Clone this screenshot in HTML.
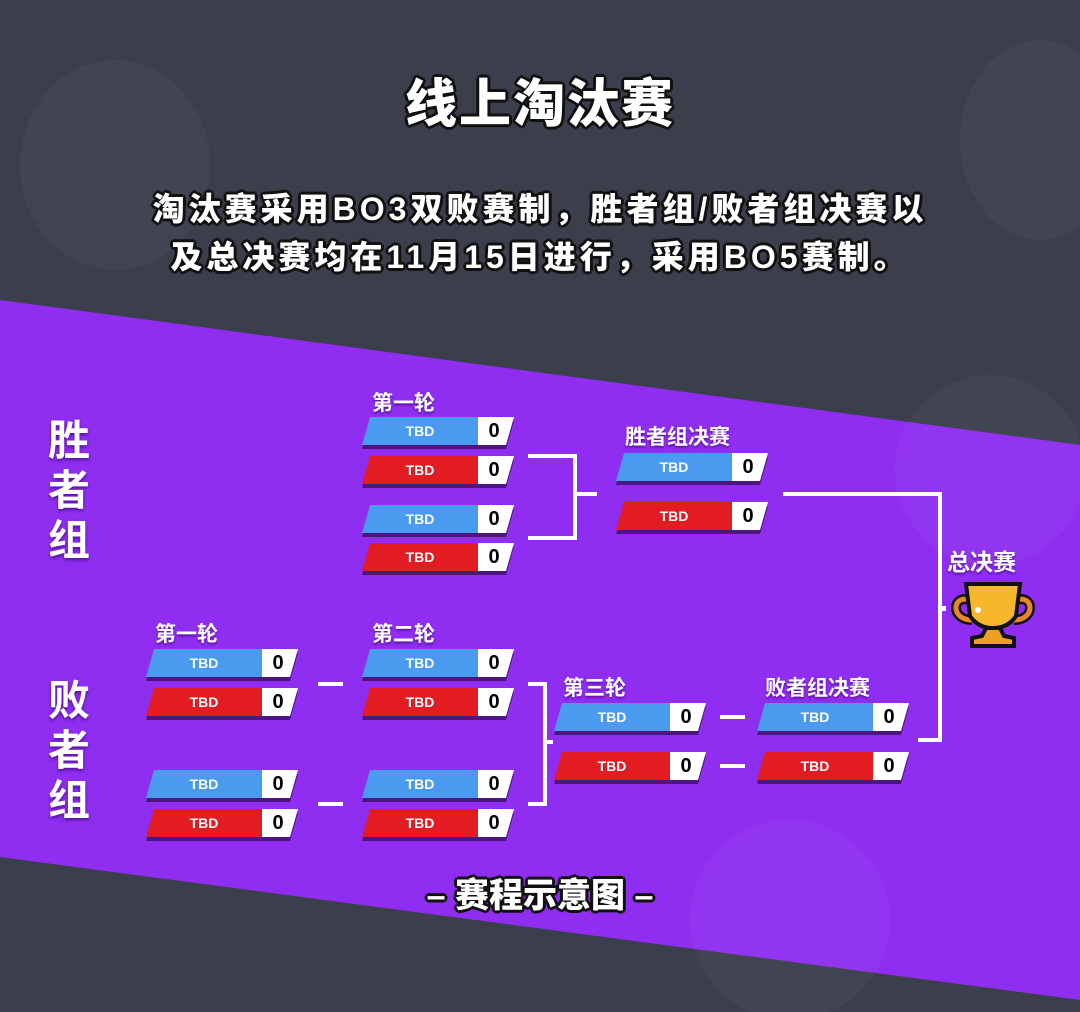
<!DOCTYPE html>
<html><head><meta charset="utf-8"><style>
*{margin:0;padding:0;box-sizing:border-box}
body{width:1080px;height:1012px;overflow:hidden;background:#3b3f4c;position:relative;font-family:"Liberation Sans","Noto Sans CJK SC",sans-serif}
.t{position:absolute;color:#fff;font-weight:900;white-space:nowrap;
 text-shadow:-2px -2px 0 #111,2px -2px 0 #111,-2px 2px 0 #111,2px 2px 0 #111,0 3px 0 #111,3px 0 0 #111,-3px 0 0 #111,0 -3px 0 #111}
.lbl{position:absolute;color:#fff;font-weight:700;font-size:21px;white-space:nowrap;text-shadow:0 2px 2px rgba(60,0,120,.6)}
.side{position:absolute;color:#fff;font-weight:700;font-size:42px;line-height:50px;width:50px;text-align:center;text-shadow:0 2px 3px rgba(40,0,90,.6)}
.slot{position:absolute;width:152px;height:28px;filter:drop-shadow(0 4px 0 #4b167f)}
.in{width:100%;height:100%;display:flex;clip-path:polygon(8px 0,100% 0,calc(100% - 8px) 100%,0 100%)}
.in .c{width:116px;height:100%;color:#fff;font-weight:900;font-size:14px;display:flex;align-items:center;justify-content:center}
.in .w{width:36px;height:100%;background:#fff;color:#000;font-weight:900;font-size:20px;display:flex;align-items:center;justify-content:center;padding-right:4px}
.b .c{background:#4a9af0}.r .c{background:#e21c22}
.ln{position:absolute;background:#fff}
.sk{position:absolute;border-radius:50%;background:rgba(255,255,255,.035)}
</style></head><body>
<div class="sk" style="left:20px;top:60px;width:190px;height:210px"></div>
<div class="sk" style="left:960px;top:40px;width:160px;height:200px"></div>
<svg width="1080" height="1012" style="position:absolute;left:0;top:0">
<polygon points="0,300 1080,445 1080,1000 0,857" fill="#8f2ef0"/>
<circle cx="990" cy="470" r="95" fill="rgba(255,255,255,.035)"/>
<circle cx="790" cy="920" r="100" fill="rgba(255,255,255,.035)"/>
</svg>
<div class="t" style="left:0;width:1080px;text-align:center;top:62px;font-size:52px;letter-spacing:2px">线上淘汰赛</div>
<div class="t" style="left:0;width:1080px;text-align:center;top:184px;font-size:32px;letter-spacing:4px">淘汰赛采用BO3双败赛制，胜者组/败者组决赛以</div>
<div class="t" style="left:0;width:1080px;text-align:center;top:232px;font-size:32px;letter-spacing:4px">及总决赛均在11月15日进行，采用BO5赛制。</div>

<div class="side" style="left:44px;top:416px">胜<br>者<br>组</div>
<div class="side" style="left:44px;top:676px">败<br>者<br>组</div>

<div class="lbl" style="left:372px;top:387px">第一轮</div>
<div class="lbl" style="left:625px;top:421px">胜者组决赛</div>
<div class="lbl" style="left:155px;top:618px">第一轮</div>
<div class="lbl" style="left:372px;top:618px">第二轮</div>
<div class="lbl" style="left:563px;top:672px">第三轮</div>
<div class="lbl" style="left:765px;top:672px">败者组决赛</div>
<div class="lbl" style="left:947px;top:543px;font-size:23px">总决赛</div>

<div class="slot b" style="left:362px;top:417px"><div class="in"><div class="c">TBD</div><div class="w">0</div></div></div>
<div class="slot r" style="left:362px;top:456px"><div class="in"><div class="c">TBD</div><div class="w">0</div></div></div>
<div class="slot b" style="left:362px;top:505px"><div class="in"><div class="c">TBD</div><div class="w">0</div></div></div>
<div class="slot r" style="left:362px;top:543px"><div class="in"><div class="c">TBD</div><div class="w">0</div></div></div>
<div class="slot b" style="left:616px;top:453px"><div class="in"><div class="c">TBD</div><div class="w">0</div></div></div>
<div class="slot r" style="left:616px;top:502px"><div class="in"><div class="c">TBD</div><div class="w">0</div></div></div>
<div class="slot b" style="left:146px;top:649px"><div class="in"><div class="c">TBD</div><div class="w">0</div></div></div>
<div class="slot r" style="left:146px;top:688px"><div class="in"><div class="c">TBD</div><div class="w">0</div></div></div>
<div class="slot b" style="left:146px;top:770px"><div class="in"><div class="c">TBD</div><div class="w">0</div></div></div>
<div class="slot r" style="left:146px;top:809px"><div class="in"><div class="c">TBD</div><div class="w">0</div></div></div>
<div class="slot b" style="left:362px;top:649px"><div class="in"><div class="c">TBD</div><div class="w">0</div></div></div>
<div class="slot r" style="left:362px;top:688px"><div class="in"><div class="c">TBD</div><div class="w">0</div></div></div>
<div class="slot b" style="left:362px;top:770px"><div class="in"><div class="c">TBD</div><div class="w">0</div></div></div>
<div class="slot r" style="left:362px;top:809px"><div class="in"><div class="c">TBD</div><div class="w">0</div></div></div>
<div class="slot b" style="left:554px;top:703px"><div class="in"><div class="c">TBD</div><div class="w">0</div></div></div>
<div class="slot r" style="left:554px;top:752px"><div class="in"><div class="c">TBD</div><div class="w">0</div></div></div>
<div class="slot b" style="left:757px;top:703px"><div class="in"><div class="c">TBD</div><div class="w">0</div></div></div>
<div class="slot r" style="left:757px;top:752px"><div class="in"><div class="c">TBD</div><div class="w">0</div></div></div>

<div class="ln" style="left:528px;top:454px;width:49px;height:4px"></div>
<div class="ln" style="left:573px;top:454px;width:4px;height:86px"></div>
<div class="ln" style="left:528px;top:536px;width:49px;height:4px"></div>
<div class="ln" style="left:573px;top:492px;width:24px;height:4px"></div>

<div class="ln" style="left:783px;top:492px;width:159px;height:4px"></div>
<div class="ln" style="left:938px;top:492px;width:4px;height:250px"></div>
<div class="ln" style="left:918px;top:738px;width:24px;height:4px"></div>
<div class="ln" style="left:938px;top:606px;width:8px;height:5px"></div>

<div class="ln" style="left:318px;top:682px;width:25px;height:4px"></div>
<div class="ln" style="left:318px;top:802px;width:25px;height:4px"></div>
<div class="ln" style="left:528px;top:682px;width:19px;height:4px"></div>
<div class="ln" style="left:543px;top:682px;width:4px;height:124px"></div>
<div class="ln" style="left:528px;top:802px;width:19px;height:4px"></div>
<div class="ln" style="left:543px;top:740px;width:10px;height:4px"></div>
<div class="ln" style="left:720px;top:715px;width:25px;height:4px"></div>
<div class="ln" style="left:720px;top:764px;width:25px;height:4px"></div>

<svg width="90" height="70" style="position:absolute;left:948px;top:580px" viewBox="0 0 90 70">
<path d="M22,20 C4,14 2,40 24,40" fill="none" stroke="#111" stroke-width="10"/>
<path d="M68,20 C86,14 88,40 66,40" fill="none" stroke="#111" stroke-width="10"/>
<path d="M22,20 C4,14 2,40 24,40" fill="none" stroke="#e8872a" stroke-width="5"/>
<path d="M68,20 C86,14 88,40 66,40" fill="none" stroke="#e8872a" stroke-width="5"/>
<path d="M18,4 L72,4 L68,36 Q60,48 45,48 Q30,48 22,36 Z" fill="#f7b72b" stroke="#111" stroke-width="4"/>
<path d="M38,48 L52,48 L56,56 L66,58 L66,66 L24,66 L24,58 L34,56 Z" fill="#f0a020" stroke="#111" stroke-width="4"/>
<circle cx="30" cy="30" r="3" fill="#fff"/>
</svg>

<div class="t" style="left:0;width:1080px;text-align:center;top:868px;font-size:34px">– 赛程示意图 –</div>
</body></html>
